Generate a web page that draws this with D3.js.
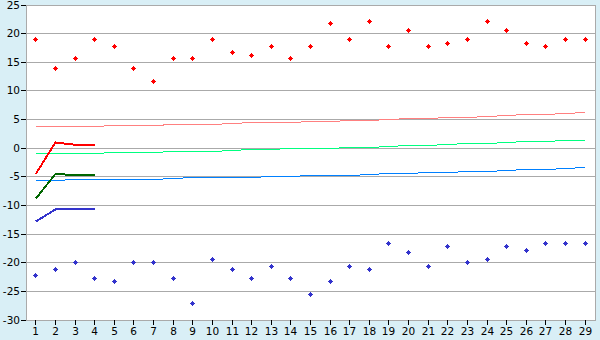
<!DOCTYPE html>
<html>
<head>
<meta charset="utf-8">
<script src="https://cdn.jsdelivr.net/npm/d3@7"></script>
<style>
  body { margin: 0; background: #d9eff6; }
  svg { display: block; }
  text { font-family: "DejaVu Sans", Verdana, sans-serif; font-size: 10.5px; fill: #000; }
</style>
</head>
<body>
<svg id="chart" width="600" height="340"></svg>
<script>
// days of the month
const days = [1, 2, 3, 4, 5, 6, 7, 8, 9, 10, 11, 12, 13, 14, 15,
              16, 17, 18, 19, 20, 21, 22, 23, 24, 25, 26, 27, 28, 29];

// record highs / lows (points)
const highPoints = [18.9, 13.9, 15.6, 18.9, 17.8, 13.9, 11.7, 15.6, 15.6, 18.9, 16.7, 16.1, 17.8, 15.6, 17.8,
                    21.7, 18.9, 22.2, 17.8, 20.6, 17.8, 18.3, 18.9, 22.2, 20.6, 18.3, 17.8, 18.9, 18.9];
const lowPoints = [-22.2, -21.1, -20.0, -22.8, -23.3, -20.0, -20.0, -22.8, -27.2, -19.4, -21.1, -22.8, -20.6, -22.8, -25.6,
                   -23.3, -20.6, -21.1, -16.7, -18.3, -20.6, -17.2, -20.0, -19.4, -17.2, -17.8, -16.7, -16.7, -16.7];

// normals (thin lines)
const normalHigh = [3.79, 3.79, 3.79, 3.79, 3.96, 3.96, 3.96, 4.13, 4.13, 4.13, 4.31, 4.48, 4.48, 4.48, 4.66,
                    4.66, 4.83, 4.83, 5.01, 5.18, 5.18, 5.36, 5.36, 5.53, 5.71, 5.88, 5.88, 6.06, 6.23];
const normalMean = [-0.93, -0.93, -0.93, -0.93, -0.75, -0.75, -0.75, -0.58, -0.58, -0.58, -0.40, -0.23, -0.23, -0.05, -0.05,
                    -0.05, 0.12, 0.12, 0.30, 0.47, 0.47, 0.65, 0.82, 0.82, 0.99, 1.17, 1.17, 1.34, 1.34];
const normalLow = [-5.64, -5.64, -5.47, -5.47, -5.47, -5.47, -5.47, -5.29, -5.12, -5.12, -5.12, -5.12, -4.94, -4.94, -4.77,
                   -4.77, -4.77, -4.60, -4.42, -4.42, -4.25, -4.25, -4.07, -4.07, -3.90, -3.72, -3.72, -3.55, -3.37];

// this month so far (thick lines)
const actualHigh = [-4.5, 1.0, 0.6, 0.5];
const actualMean = [-8.8, -4.5, -4.7, -4.7];
const actualLow = [-12.8, -10.7, -10.7, -10.7];

const yTicks = [-30, -25, -20, -15, -10, -5, 0, 5, 10, 15, 20, 25];

const W = 600, H = 340;
const mLeft = 26, mRight = 595, mTop = 5, mBottom = 320;

const svg = d3.select("#chart");

const x = d3.scaleBand().domain(days).range([mLeft, mRight]);
const cx = d => x(d) + x.bandwidth() / 2;
const xTick = d3.scaleLinear().domain([1, 29])
  .range([cx(1) - 0.5, cx(29) - 0.5]).interpolate(d3.interpolateRound);

const y = d3.scaleLinear().domain([-30, 25]).range([mBottom, mTop]);
const yTick = d3.scaleLinear().domain([-30, 25])
  .range([mBottom - 0.5, mTop - 0.5]).interpolate(d3.interpolateRound);

svg.append("rect").attr("width", W).attr("height", H).attr("fill", "#d9eff6");
svg.append("rect").attr("x", mLeft).attr("y", mTop)
  .attr("width", mRight - mLeft).attr("height", mBottom - mTop).attr("fill", "#fff");

// grid
svg.append("g").selectAll("line").data(yTicks).join("line")
  .attr("x1", mLeft).attr("x2", mRight + 1)
  .attr("y1", d => yTick(d) + 0.5).attr("y2", d => yTick(d) + 0.5)
  .attr("stroke", "#aaaaaa").attr("shape-rendering", "crispEdges");

svg.append("line").attr("x1", mRight + 0.5).attr("x2", mRight + 0.5)
  .attr("y1", mTop).attr("y2", mBottom + 1)
  .attr("stroke", "#aaaaaa").attr("shape-rendering", "crispEdges");

// axes
const yAxis = svg.append("g").attr("transform", `translate(${mLeft},0)`)
  .call(d3.axisLeft(yTick).tickValues(yTicks).tickSize(5).tickPadding(1).tickFormat(d => String(d)));
const xAxis = svg.append("g").attr("transform", `translate(0,${mBottom})`)
  .call(d3.axisBottom(xTick).tickValues(days).tickSize(5).tickPadding(3).tickFormat(d => String(d)));
[yAxis, xAxis].forEach(g => {
  g.select(".domain").attr("stroke", "#aaaaaa").attr("shape-rendering", "crispEdges");
  g.selectAll(".tick line").attr("stroke", "#000").attr("shape-rendering", "crispEdges");
  g.attr("font-family", null).attr("font-size", null);
});
xAxis.select(".domain").attr("d", `M${mLeft},0.5H${mRight + 1}`);
yAxis.select(".domain").attr("d", `M0.5,${mTop}V${mBottom + 1}`);

const line = d3.line().x((v, i) => cx(days[i])).y(v => y(v));

const series = [
  { values: normalHigh, color: "#ff8080", width: 1 },
  { values: normalMean, color: "#00ff80", width: 1 },
  { values: normalLow, color: "#0080ff", width: 1 },
  { values: actualHigh, color: "#ff0000", width: 2 },
  { values: actualMean, color: "#006600", width: 2 },
  { values: actualLow, color: "#3333cc", width: 2 }
];

svg.append("g").selectAll("path").data(series).join("path")
  .attr("d", s => line(s.values))
  .attr("fill", "none")
  .attr("stroke", s => s.color)
  .attr("stroke-width", s => s.width)
  .attr("shape-rendering", "crispEdges");

// small stepped diamond marker
const marker = "M-0.5,-2.5H0.5V-1.5H1.5V-0.5H2.5V0.5H1.5V1.5H0.5V2.5H-0.5V1.5H-1.5V0.5H-2.5V-0.5H-1.5V-1.5H-0.5Z";
[[highPoints, "#ff0000"], [lowPoints, "#3333cc"]].forEach(([vals, color]) => {
  svg.append("g").selectAll("path").data(vals).join("path")
    .attr("d", marker)
    .attr("transform", (v, i) => `translate(${Math.floor(cx(days[i])) + 0.5},${Math.floor(y(v)) + 0.5})`)
    .attr("fill", color)
    .attr("shape-rendering", "crispEdges");
});
</script>
</body>
</html>
